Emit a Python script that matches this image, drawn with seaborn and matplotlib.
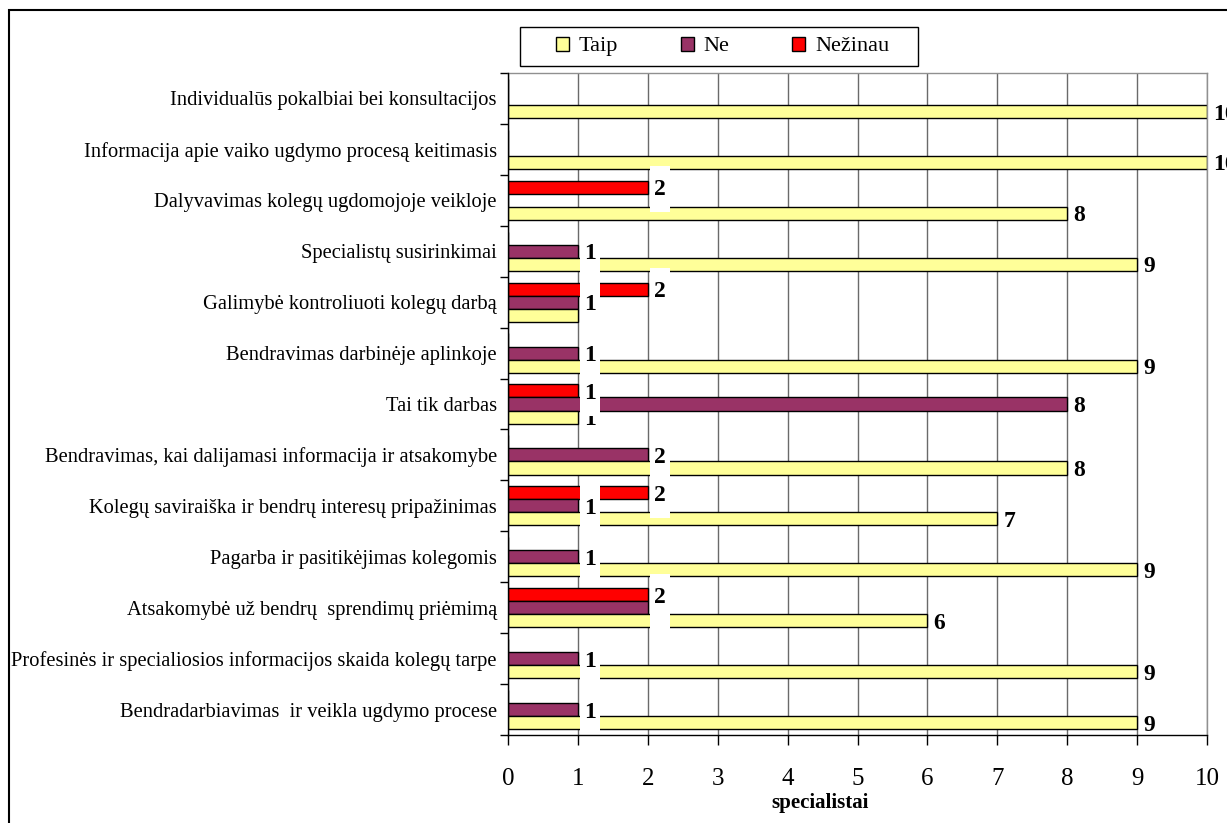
import numpy as np
import pandas as pd
import matplotlib
matplotlib.use("Agg")
import matplotlib.pyplot as plt
import matplotlib.transforms as mtransforms
from matplotlib.patches import Patch, Rectangle
import seaborn as sns

# Survey answers per form of collaboration (number of specialists)
categories = [
    "Individualūs pokalbiai bei konsultacijos",
    "Informacija apie vaiko ugdymo procesą keitimasis",
    "Dalyvavimas kolegų ugdomojoje veikloje",
    "Specialistų susirinkimai",
    "Galimybė kontroliuoti kolegų darbą",
    "Bendravimas darbinėje aplinkoje",
    "Tai tik darbas",
    "Bendravimas, kai dalijamasi informacija ir atsakomybe",
    "Kolegų saviraiška ir bendrų interesų pripažinimas",
    "Pagarba ir pasitikėjimas kolegomis",
    "Atsakomybė už bendrų  sprendimų priėmimą",
    "Profesinės ir specialiosios informacijos skaida kolegų tarpe",
    "Bendradarbiavimas  ir veikla ugdymo procese",
]
taip = [10, 10, 8, 9, 1, 9, 1, 8, 7, 9, 6, 9, 9]
ne = [0, 0, 0, 1, 1, 1, 8, 2, 1, 1, 2, 1, 1]
nezinau = [0, 0, 2, 0, 2, 0, 1, 0, 2, 0, 2, 0, 0]
series_names = ["Taip", "Ne", "Nežinau"]
series_colors = ["#FFFF99", "#993366", "#FF0000"]
x_ticks = list(range(0, 11))
x_title = "specialistai"

df = pd.DataFrame({
    "kategorija": categories * 3,
    "atsakymas": [series_names[0]] * len(categories)
    + [series_names[1]] * len(categories)
    + [series_names[2]] * len(categories),
    "kiekis": taip + ne + nezinau,
})
palette = dict(zip(series_names, series_colors))

sns.set_theme(style="white")
plt.rcParams["font.family"] = ["Liberation Serif", "DejaVu Serif"]
plt.rcParams["text.color"] = "black"
plt.rcParams["axes.labelcolor"] = "black"
plt.rcParams["xtick.color"] = "black"
plt.rcParams["ytick.color"] = "black"

W, H = 1227, 823
fig = plt.figure(figsize=(W / 100, H / 100), dpi=100)
ax = fig.add_axes([508 / W, 1 - 735 / H, (1207 - 508) / W, (735 - 73) / H])

# "Taip" sits at the bottom of each group, "Nežinau" on top
draw_order = ["Nežinau", "Ne", "Taip"]
sns.barplot(
    data=df, y="kategorija", x="kiekis", hue="atsakymas",
    hue_order=draw_order, order=categories, palette=palette,
    orient="h", width=0.77, dodge=True, saturation=1,
    edgecolor="black", linewidth=1.0, legend=False, ax=ax, zorder=2,
)

ax.set_xlim(0, 10)
ax.set_xticks(x_ticks)
ax.set_xticklabels([str(t) for t in x_ticks], fontsize=18, color="black")
ax.set_xlabel(x_title, fontsize=15, fontweight="bold", va="center", color="black")
ax.xaxis.set_label_coords((820 - 508) / 699, (735 - 803) / 662)
ax.set_ylabel("")
ax.tick_params(axis="y", which="major", length=0, pad=8, labelsize=14.8, colors="black")
ax.set_yticks(np.arange(-0.5, len(categories), 1), minor=True)
ax.tick_params(axis="y", which="minor", left=True, length=6, width=1, direction="out", color="black")
ax.tick_params(axis="x", which="major", bottom=True, length=7, width=1, direction="out",
               color="black", pad=17, labelcolor="black")

ax.set_axisbelow(True)
ax.xaxis.grid(True, color="#6a6a6a", linewidth=1)
ax.yaxis.grid(False)
for side in ("left", "bottom"):
    ax.spines[side].set_color("black")
    ax.spines[side].set_linewidth(1)
    ax.spines[side].set_zorder(30)
for side in ("top", "right"):
    ax.spines[side].set_color("#909090")
    ax.spines[side].set_linewidth(1)

# value labels on white boxes, drawn series by series
containers = dict(zip(draw_order, ax.containers))
for k, name in enumerate(series_names):
    for bar in containers[name]:
        v = bar.get_width()
        if v <= 0:
            continue
        yc = bar.get_y() + bar.get_height() / 2
        txt = f"{int(round(v))}"
        bw = 20 if len(txt) == 1 else 32
        anchor = mtransforms.ScaledTranslation(v, yc, ax.transData)
        box = Rectangle((2, -25), bw, 46, transform=anchor, facecolor="white",
                        edgecolor="none", zorder=5 + 2 * k, clip_on=False)
        ax.add_artist(box)
        ax.annotate(txt, xy=(v, yc), xytext=(2 + bw / 2, 0), textcoords="offset pixels",
                    ha="center", va="center_baseline", fontsize=17, fontweight="bold",
                    color="black", zorder=6 + 2 * k, annotation_clip=False)

# legend entries with a separate frame around them
handles = [Patch(facecolor=c, edgecolor="black", linewidth=1) for c in series_colors]
leg = fig.legend(handles, series_names, loc="center",
                 bbox_to_anchor=(722.5 / W, 1 - 46.5 / H), ncol=3, fontsize=16,
                 frameon=False, handlelength=0.6, handleheight=0.6, handletextpad=0.45,
                 columnspacing=2.8, borderpad=0, borderaxespad=0, labelcolor="black")
fig.add_artist(Rectangle((520 / W, 1 - 66 / H), (918 - 520) / W, (66 - 27) / H,
                         transform=fig.transFigure, fill=False, edgecolor="black",
                         linewidth=1))

# outer chart frame
fig.add_artist(Rectangle((9 / W, -0.1), 1.2, 1 - 10 / H + 0.1, transform=fig.transFigure,
                         fill=False, edgecolor="black", linewidth=1.5))

fig.savefig("out.png", dpi=100)
